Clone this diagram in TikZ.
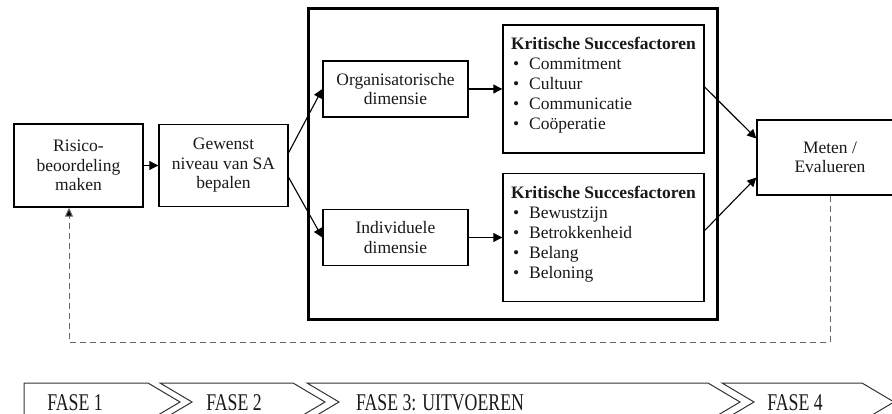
\documentclass[tikz,border=0pt]{standalone}
\usepackage{fontspec}
\setmainfont{Liberation Serif}
\usetikzlibrary{positioning,arrows.meta}
\newcommand{\ksfpunt}[1]{\hspace*{2pt}\makebox[16pt][l]{\textbullet}#1}
\newcommand{\fasetxt}[1]{\scalebox{0.74}[1]{#1}}
\tikzset{
  flow/.style={x=1pt,y=-1pt,node distance=145pt,on grid,
    every node/.style={font=\fontsize{17.5}{19.5}\selectfont,text=black!90}},
  blok/.style={draw=black,line width=1.4pt,align=center,inner sep=2pt},
  dimbox/.style={blok,minimum width=145pt,minimum height=56pt},
  ksf/.style={blok,align=left,minimum width=201pt,minimum height=128pt,
    font=\fontsize{17.5}{20}\selectfont},
  kader/.style={line width=3pt},
  pijl/.style={-{Triangle[length=9pt,width=9pt]},line width=1.1pt},
  terug/.style={draw=black!60,line width=1pt,dash pattern=on 6pt off 4pt,
    -{Triangle[length=9pt,width=8pt,fill=black]}},
  fase/.style={draw=black!80,line width=1pt},
  fasetekst/.style={anchor=base,font=\fontsize{24}{26}\selectfont},
}

\begin{document}
\begin{tikzpicture}[flow]
  \useasboundingbox (0,0) rectangle (892,414);
  \clip (0,0) rectangle (892,414);
  % fase 1 en 2
  \node[blok,minimum width=129pt,minimum height=83pt] (risk) at (78.5,165.5) {Risico-\\beoordeling\\maken};
  \node[blok,minimum width=129pt,minimum height=82pt] (gew) [right=of risk] {Gewenst\\niveau van SA\\bepalen};
  % fase 3
  \draw[kader] (308,9) rectangle (717,319);
  \node[dimbox] (org) [above right=76.5pt and 172pt of gew] {Organisatorische\\dimensie};
  \node[dimbox] (ind) [below=148.5pt of org] {Individuele\\dimensie};
  \node[ksf] (ksfA) [right=208pt of org] {\textbf{Kritische Succesfactoren}\\
    \ksfpunt{Commitment}\\ \ksfpunt{Cultuur}\\ \ksfpunt{Communicatie}\\
    \ksfpunt{Coöperatie}\\[-9pt]\mbox{}};
  \node[ksf] (ksfB) [right=208pt of ind] {\textbf{Kritische Succesfactoren}\\
    \ksfpunt{Bewustzijn}\\ \ksfpunt{Betrokkenheid}\\ \ksfpunt{Belang}\\
    \ksfpunt{Beloning}\\[-9pt]\mbox{}};
  % fase 4
  \node[blok,minimum width=146pt,minimum height=75pt] (meet) [below right=68.5pt and 226.5pt of ksfA] {Meten /\\Evalueren};
  \path (risk) edge[pijl] (gew)
        ([yshift=13pt]gew.east) edge[pijl] (org.west)
        ([yshift=-12pt]gew.east) edge[pijl] (ind.west)
        (org) edge[pijl] (ksfA)
        (ind) edge[pijl] (ksfB)
        ([yshift=2pt]ksfA.east) edge[pijl] ([yshift=19pt]meet.west)
        ([yshift=7pt]ksfB.east) edge[pijl] ([yshift=-20pt]meet.west);
  \coordinate (hoek) at (69,342);
  \draw[terug] (meet.south) |- (hoek) -- (hoek |- risk.south);
  % fasenbalk
  \draw[fase] (24,383) -- (148,383) -- ++(32,19) -- ++(-32,19) -- (24,421) -- cycle;
  \foreach \a/\b in {160/293,307/708,722/862}
    \draw[fase] (\a,383) -- (\b,383) -- ++(32,19) -- ++(-32,19) -- (\a,421) -- ++(32,-19) -- cycle;
  \node[fasetekst] (f1) at (75,410) {\fasetxt{FASE 1}};
  \node[fasetekst] (f2) at (234,410) {\fasetxt{FASE 2}};
  \node[fasetekst] (f3) at (440,410) {\fasetxt{FASE 3: UITVOEREN}};
  \node[fasetekst] (f4) at (795,410) {\fasetxt{FASE 4}};
\end{tikzpicture}
\end{document}
